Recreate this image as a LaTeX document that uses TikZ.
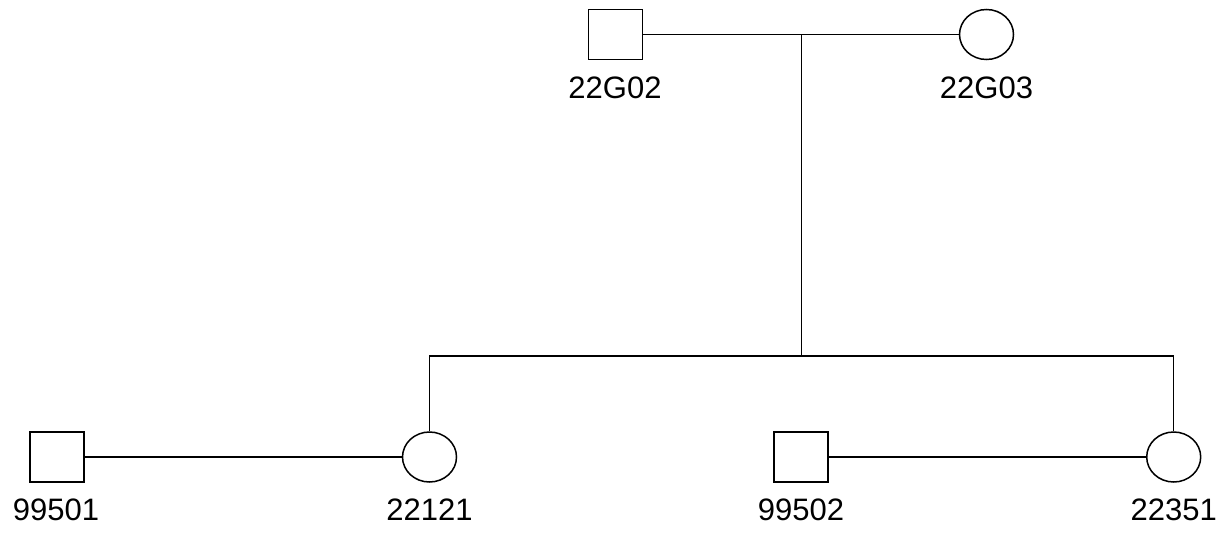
\documentclass[tikz,border=0pt]{standalone}
\usepackage{fontspec}
\setmainfont{Liberation Sans}
\usetikzlibrary{shapes.geometric}
\begin{document}
\begin{tikzpicture}[x=1pt,y=1pt,
  male/.style={draw,line width=1.5pt,rectangle,minimum width=54pt,minimum height=50pt,inner sep=0pt},
  female/.style={draw,line width=1.5pt,ellipse,minimum width=54pt,minimum height=50pt,inner sep=0pt},
  lbl/.style={anchor=base,inner sep=0pt,font=\fontsize{31}{37}\selectfont},
  conn/.style={line width=1.5pt}]
\useasboundingbox (0,0) rectangle (1225,-533);
\node[male] (g02) at (615.5,-34.5) {};
\node[female] (g03) at (986.5,-34.5) {};
\node[male] (p501) at (57,-457) {};
\node[female] (p121) at (429.5,-457) {};
\node[male] (p502) at (801,-457) {};
\node[female] (p351) at (1173.7,-457) {};
\node[lbl] (l02) at (615,-98) {22G02};
\node[lbl] (l03) at (986.5,-98) {22G03};
\node[lbl] (l501) at (56,-520) {99501};
\node[lbl] (l121) at (429.5,-520) {22121};
\node[lbl] (l502) at (801,-520) {99502};
\node[lbl] (l351) at (1173.7,-520) {22351};
\coordinate (u1) at (801.7,-34.5);
\coordinate (sib) at (801.7,-356);
\draw[conn] (g02) -- (g03);
\draw[conn] (u1) -- (sib);
\draw[conn] (p121.north) |- (sib) -| (p351.north);
\draw[conn] (p501) -- (p121);
\draw[conn] (p502) -- (p351);
\end{tikzpicture}
\end{document}
